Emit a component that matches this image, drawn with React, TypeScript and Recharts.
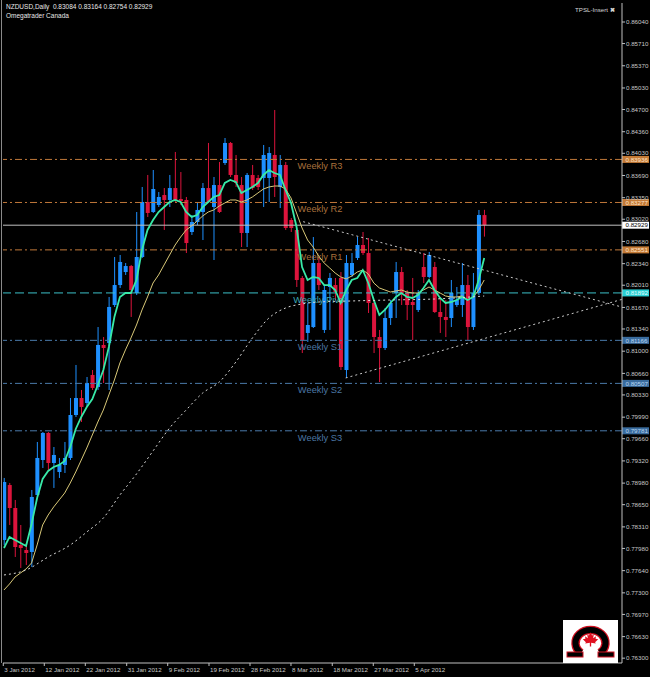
import React from 'react';
import { ComposedChart, XAxis, YAxis, Bar, Line, ReferenceLine } from 'recharts';

// ---- candle data (NZDUSD daily) ----
const opens = [
  0.78109, 0.78951, 0.78599, 0.78033, 0.77956, 0.77926, 0.78798, 0.79334, 0.79748, 0.79288,
  0.79150, 0.79258, 0.79365, 0.80023, 0.80283, 0.80207, 0.80636, 0.80452, 0.81095, 0.81126,
  0.81707, 0.82013, 0.82212, 0.82304, 0.81891, 0.82442, 0.83284, 0.83131, 0.83238, 0.83391,
  0.83315, 0.83498, 0.83330, 0.83315, 0.82825, 0.82978, 0.83131, 0.83498, 0.83208, 0.83544,
  0.83881, 0.84188, 0.83698, 0.83544, 0.82810, 0.83698, 0.83652, 0.83652, 0.83652, 0.84004,
  0.83514, 0.83851, 0.83009, 0.82856, 0.82121, 0.81279, 0.81370, 0.82350, 0.81325, 0.81983,
  0.82013, 0.82121, 0.80712, 0.82167, 0.82427, 0.82626, 0.82503, 0.81738, 0.81217, 0.81049,
  0.81508, 0.81891, 0.82212, 0.81891, 0.81753, 0.81631, 0.82289, 0.82136, 0.82289, 0.81600,
  0.81524, 0.81508, 0.81707, 0.81707, 0.82013, 0.81370, 0.81891, 0.83084,
];
const highs = [
  0.79059, 0.78982, 0.78722, 0.78339, 0.78064, 0.78875, 0.79610, 0.79763, 0.79763, 0.79533,
  0.79365, 0.79610, 0.80283, 0.80789, 0.80406, 0.80605, 0.80712, 0.81370, 0.81217, 0.81830,
  0.82442, 0.82473, 0.82350, 0.82320, 0.83131, 0.83514, 0.83698, 0.83774, 0.83437, 0.83498,
  0.83698, 0.84050, 0.83743, 0.83361, 0.83085, 0.83269, 0.83575, 0.84188, 0.83667, 0.83897,
  0.84264, 0.84203, 0.84004, 0.83667, 0.83728, 0.83851, 0.83698, 0.84157, 0.84126, 0.84693,
  0.84004, 0.83897, 0.83039, 0.82886, 0.82151, 0.81738, 0.82748, 0.82442, 0.82013, 0.82197,
  0.82121, 0.82212, 0.82473, 0.82503, 0.82748, 0.82825, 0.82733, 0.81784, 0.81325, 0.81661,
  0.81784, 0.82366, 0.82289, 0.81937, 0.82121, 0.81937, 0.82503, 0.82519, 0.82366, 0.81830,
  0.81784, 0.82090, 0.81983, 0.82350, 0.82167, 0.82197, 0.83162, 0.83164,
];
const lows = [
  0.78033, 0.78339, 0.77849, 0.77681, 0.77727, 0.77696, 0.78768, 0.79212, 0.79181, 0.78906,
  0.79059, 0.79135, 0.79334, 0.79993, 0.79916, 0.80146, 0.80406, 0.80406, 0.80513, 0.80406,
  0.81677, 0.81968, 0.82167, 0.81524, 0.81860, 0.82427, 0.83055, 0.83116, 0.83208, 0.82856,
  0.83208, 0.83284, 0.83238, 0.82503, 0.82779, 0.82932, 0.82702, 0.83269, 0.82396, 0.83116,
  0.83851, 0.83667, 0.83514, 0.82595, 0.82595, 0.83468, 0.83468, 0.83208, 0.83284, 0.83361,
  0.83192, 0.82856, 0.82825, 0.81983, 0.80972, 0.81141, 0.81355, 0.81937, 0.81279, 0.81325,
  0.81784, 0.80712, 0.80590, 0.82136, 0.82396, 0.82473, 0.81585, 0.80972, 0.80528, 0.81018,
  0.81401, 0.81508, 0.81707, 0.81478, 0.81171, 0.81600, 0.82044, 0.82121, 0.81585, 0.81279,
  0.81217, 0.81370, 0.81677, 0.81524, 0.81171, 0.81325, 0.81860, 0.82754,
];
const closes = [
  0.78997, 0.78599, 0.78002, 0.77987, 0.77910, 0.78768, 0.79365, 0.79748, 0.79288, 0.79411,
  0.79258, 0.79365, 0.80023, 0.80283, 0.80146, 0.80513, 0.80437, 0.81095, 0.81049, 0.81677,
  0.82013, 0.82366, 0.82304, 0.81937, 0.82442, 0.83284, 0.83116, 0.83483, 0.83361, 0.83315,
  0.83498, 0.83315, 0.83299, 0.82656, 0.82978, 0.83162, 0.83498, 0.83284, 0.83544, 0.83131,
  0.84188, 0.83698, 0.83575, 0.82810, 0.83698, 0.83498, 0.83514, 0.84004, 0.84034, 0.83667,
  0.83851, 0.82886, 0.82886, 0.82090, 0.81171, 0.81401, 0.82350, 0.82013, 0.81937, 0.82121,
  0.81906, 0.80758, 0.82350, 0.82350, 0.82626, 0.82503, 0.81738, 0.81217, 0.81049, 0.81508,
  0.81738, 0.82212, 0.81891, 0.81707, 0.81707, 0.81891, 0.82136, 0.82473, 0.81600, 0.81524,
  0.81478, 0.81891, 0.81784, 0.82013, 0.81370, 0.81891, 0.83085, 0.82929,
];

// ---- moving averages ----
const fastMA = [
  0.77987, 0.78156, 0.78110, 0.78064, 0.78018, 0.78355, 0.78753, 0.79044, 0.79166, 0.79227,
  0.79258, 0.79319, 0.79533, 0.79809, 0.79993, 0.80146, 0.80268, 0.80483, 0.80712, 0.81064,
  0.81524, 0.81830, 0.81891, 0.81891, 0.82090, 0.82550, 0.82856, 0.83009, 0.83131, 0.83208,
  0.83284, 0.83315, 0.83284, 0.83131, 0.83055, 0.83085, 0.83208, 0.83284, 0.83361, 0.83391,
  0.83575, 0.83621, 0.83591, 0.83422, 0.83468, 0.83514, 0.83575, 0.83698, 0.83774, 0.83728,
  0.83698, 0.83468, 0.83269, 0.82902, 0.82289, 0.82090, 0.82136, 0.82121, 0.82013, 0.82013,
  0.81937, 0.81738, 0.81937, 0.82090, 0.82121, 0.82243, 0.82044, 0.81784, 0.81554, 0.81631,
  0.81738, 0.81830, 0.81891, 0.81830, 0.81815, 0.81860, 0.81968, 0.82090, 0.81937, 0.81815,
  0.81738, 0.81753, 0.81784, 0.81830, 0.81784, 0.81830, 0.82090, 0.82427,
];
const midMA = [
  0.77344, 0.77436, 0.77543, 0.77604, 0.77666, 0.77758, 0.78033, 0.78339, 0.78492, 0.78615,
  0.78722, 0.78829, 0.78982, 0.79151, 0.79334, 0.79518, 0.79717, 0.79916, 0.80100, 0.80330,
  0.80559, 0.80820, 0.81019, 0.81202, 0.81401, 0.81631, 0.81830, 0.82044, 0.82167, 0.82320,
  0.82473, 0.82626, 0.82748, 0.82856, 0.82917, 0.82994, 0.83070, 0.83131, 0.83162, 0.83223,
  0.83269, 0.83315, 0.83315, 0.83284, 0.83315, 0.83361, 0.83422, 0.83483, 0.83514, 0.83529,
  0.83529, 0.83483, 0.83346, 0.83116, 0.82886, 0.82702, 0.82595, 0.82458, 0.82350, 0.82274,
  0.82197, 0.82136, 0.82106, 0.82151, 0.82212, 0.82243, 0.82182, 0.82044, 0.81968, 0.81937,
  0.81906, 0.81922, 0.81937, 0.81906, 0.81891, 0.81891, 0.81937, 0.81983, 0.81937, 0.81891,
  0.81845, 0.81830, 0.81830, 0.81845, 0.81784, 0.81830, 0.81937, 0.82090,
];
const slowMAIndex = [0, 4, 8, 12, 15, 18, 21, 24, 27, 30, 33, 36, 39, 42, 45, 48, 51, 54, 57, 63, 70, 78, 87];
const slowMAValue = [
  0.77574, 0.77650, 0.77849, 0.78033, 0.78232, 0.78446, 0.78798, 0.79120, 0.79472, 0.79824,
  0.80100, 0.80360, 0.80528, 0.80834, 0.81202, 0.81508, 0.81661, 0.81723, 0.81753, 0.81769,
  0.81784, 0.81799, 0.81845,
];

// ---- axes ----
const dateTickPos = [-0.13, 7.3, 14.73, 22.23, 29.66, 37.14, 44.57, 51.99, 59.47, 66.9, 74.33];
const dateTickLabels = [
  '3 Jan 2012', '12 Jan 2012', '22 Jan 2012', '31 Jan 2012', '9 Feb 2012', '19 Feb 2012',
  '28 Feb 2012', '8 Mar 2012', '18 Mar 2012', '27 Mar 2012', '5 Apr 2012',
];
const priceTicks = [
  0.8604, 0.8571, 0.8537, 0.8503, 0.847, 0.8436, 0.8403, 0.8369, 0.8335, 0.8302,
  0.8268, 0.8234, 0.8201, 0.8167, 0.8134, 0.81, 0.8066, 0.8033, 0.7999, 0.7966,
  0.7932, 0.7898, 0.7865, 0.7831, 0.7798, 0.7764, 0.773, 0.7697, 0.7663, 0.763,
];
const X_DOMAIN: [number, number] = [-0.18, 111.96];
const Y_DOMAIN: [number, number] = [0.76226, 0.86331];

// ---- pivot levels & lines ----
const pivotNames = ['Weekly R3', 'Weekly R2', 'Weekly R1', 'Weekly Pivot', 'Weekly S1', 'Weekly S2', 'Weekly S3'];
const pivotValues = [0.83936, 0.83277, 0.82551, 0.81892, 0.81166, 0.80507, 0.79781];
const lastPrice = 0.82929;
const trendUpper = [{ x: 54.2, y: 0.82983 }, { x: 111.9, y: 0.81677 }];
const trendLower = [{ x: 61.9, y: 0.8059 }, { x: 111.9, y: 0.81792 }];

const STYLE: Record<string, any> = {
  R: { line: '#c0783a', text: '#a8703c', box: '#c47a36', boxText: '#ffe6cc', dash: '7 3 2 3' },
  P: { line: '#3cc0c8', text: '#3aa8b4', box: '#2ad0d4', boxText: '#e0ffff', dash: '9 4' },
  S: { line: '#4a7aaa', text: '#4a76a4', box: '#3a6c9e', boxText: '#b8d4f0', dash: '7 3 2 3' },
  L: { line: '#c0c0c0', text: '#c8c8c8', box: '#ffffff', boxText: '#000000', dash: undefined },
};
const kindOf = (name: string) => (name.endsWith('Pivot') ? 'P' : name.includes(' R') ? 'R' : 'S');

const FONT = '"Liberation Sans", Arial, sans-serif';

const data = opens.map((o, i) => ({
  i,
  o,
  h: highs[i],
  l: lows[i],
  c: closes[i],
  range: [lows[i], highs[i]],
  fast: fastMA[i],
  mid: midMA[i],
  slow: null as number | null,
}));
slowMAIndex.forEach((idx, k) => {
  data[idx].slow = slowMAValue[k];
});

const Candle = (props: any) => {
  const { x, y, width, height, payload } = props;
  if (!payload || height == null) return null;
  const { o, h, l, c } = payload;
  const up = c >= o;
  const color = up ? '#1e90ff' : '#dc143c';
  const span = h - l;
  const ppx = span > 0 ? height / span : 0;
  const top = y + (h - Math.max(o, c)) * ppx;
  const bot = y + (h - Math.min(o, c)) * ppx;
  const cx = x + width / 2;
  return (
    <g>
      <line x1={cx} x2={cx} y1={y} y2={y + height} stroke={color} strokeWidth={1} />
      <rect x={x} y={top} width={width} height={Math.max(1, bot - top)} fill={color} />
    </g>
  );
};

const LevelLabel = (props: any) => {
  const { viewBox, name, value, kind } = props;
  if (!viewBox) return null;
  const { x, y, width } = viewBox;
  const s = STYLE[kind];
  return (
    <g>
      {name ? (
        <text x={x + 317} y={y + 10} textAnchor="middle" fill={s.text} fontSize={9.3} fontFamily={FONT}>
          {name}
        </text>
      ) : null}
      <rect x={x + width} y={y - 3.5} width={27} height={7} fill={s.box} />
      <text x={x + width + 3.5} y={y + 2.3} fill={s.boxText} fontSize={6.2} fontFamily={FONT}>
        {value.toFixed(5)}
      </text>
    </g>
  );
};

const DateTick = (props: any) => {
  const { x, y, index } = props;
  return (
    <text x={x + 1} y={y + 4} fill="#c8c8c8" fontSize={6.2} fontFamily={FONT} textAnchor="start">
      {dateTickLabels[index]}
    </text>
  );
};

const leaf = [
  [0, -7], [1.4, -4.2], [3, -5], [2.4, -1.6], [5, -3.4], [4.6, -1.2], [7, -0.6], [4.2, 2], [4.8, 3.2],
  [0.6, 2.6], [0.6, 6], [-0.6, 6], [-0.6, 2.6], [-4.8, 3.2], [-4.2, 2], [-7, -0.6], [-4.6, -1.2],
  [-5, -3.4], [-2.4, -1.6], [-3, -5], [-1.4, -4.2],
];

export default function App() {
  return (
    <div style={{ position: 'absolute', left: 0, top: 0, width: 650, height: 677, background: '#000', overflow: 'hidden' }}>
      <ComposedChart width={650} height={677} data={data} margin={{ top: 3, right: 0, bottom: 0, left: 3 }}>
        <XAxis
          type="number"
          dataKey="i"
          domain={X_DOMAIN}
          allowDataOverflow
          ticks={dateTickPos}
          interval={0}
          height={14}
          tickSize={3}
          tickMargin={2}
          tick={<DateTick />}
          axisLine={{ stroke: '#c0c0c0' }}
          tickLine={{ stroke: '#c0c0c0' }}
        />
        <YAxis
          orientation="right"
          type="number"
          domain={Y_DOMAIN}
          allowDataOverflow
          ticks={priceTicks}
          interval={0}
          width={28}
          tickSize={3}
          tickMargin={1}
          tickFormatter={(v: number) => v.toFixed(5)}
          tick={{ fill: '#c8c8c8', fontSize: 6.2, fontFamily: FONT }}
          axisLine={{ stroke: '#c0c0c0' }}
          tickLine={{ stroke: '#c0c0c0' }}
        />
        {pivotValues.map((v, k) => {
          const kind = kindOf(pivotNames[k]);
          const s = STYLE[kind];
          return (
            <ReferenceLine
              key={pivotNames[k]}
              y={v}
              stroke={s.line}
              strokeWidth={1}
              strokeDasharray={s.dash}
              label={<LevelLabel name={pivotNames[k]} value={v} kind={kind} />}
            />
          );
        })}
        <ReferenceLine
          y={lastPrice}
          stroke={STYLE.L.line}
          strokeWidth={1}
          label={<LevelLabel name="" value={lastPrice} kind="L" />}
        />
        <ReferenceLine segment={trendUpper} stroke="#c8c8c8" strokeDasharray="2 3" strokeWidth={1} ifOverflow="visible" />
        <ReferenceLine segment={trendLower} stroke="#c8c8c8" strokeDasharray="2 3" strokeWidth={1} ifOverflow="visible" />
        <Bar dataKey="range" barSize={4} shape={<Candle />} isAnimationActive={false} />
        <Line type="linear" dataKey="mid" stroke="#d8c878" strokeWidth={1} dot={false} activeDot={false} isAnimationActive={false} />
        <Line type="linear" dataKey="fast" stroke="#38eaa8" strokeWidth={1.8} dot={false} activeDot={false} isAnimationActive={false} />
        <Line
          type="monotone"
          dataKey="slow"
          stroke="#d8d8d8"
          strokeWidth={1}
          strokeDasharray="2 3"
          dot={false}
          activeDot={false}
          connectNulls
          isAnimationActive={false}
        />
      </ComposedChart>

      <div style={{ position: 'absolute', left: 1, top: 0, width: 1, height: 663, background: '#8a8a8a' }} />

      <div
        style={{
          position: 'absolute', left: 6, top: 3, fontFamily: FONT, fontSize: 6.5, lineHeight: '8.5px',
          color: '#e8e8e8', whiteSpace: 'pre',
        }}
      >
        {'NZDUSD,Daily  0.83084 0.83164 0.82754 0.82929\nOmegatrader Canada'}
      </div>
      <div
        style={{
          position: 'absolute', left: 575, top: 6, fontFamily: FONT, fontSize: 6.2, lineHeight: '8px',
          color: '#d8d8d8', whiteSpace: 'pre',
        }}
      >
        {'TPSL-Insert '}<span style={{ fontWeight: 'bold' }}>✖</span>
      </div>

      <svg style={{ position: 'absolute', left: 563, top: 620 }} width={55} height={43}>
        <rect x={0} y={0} width={55} height={43} fill="#ffffff" />
        <path d="M 18 33 A 15 13 0 1 1 37 33" fill="none" stroke="#d01020" strokeWidth={8.5} />
        <path d="M 18 33 A 15 13 0 1 1 37 33" fill="none" stroke="#000000" strokeWidth={6} />
        <rect x={4} y={32} width={16} height={5} fill="#000" stroke="#d01020" strokeWidth={1} />
        <rect x={35} y={32} width={16} height={5} fill="#000" stroke="#d01020" strokeWidth={1} />
        <polygon
          points={leaf.map(([px, py]) => `${27.5 + px * 1.1},${20 + py * 1.1}`).join(' ')}
          fill="#e01020"
        />
      </svg>
    </div>
  );
}
